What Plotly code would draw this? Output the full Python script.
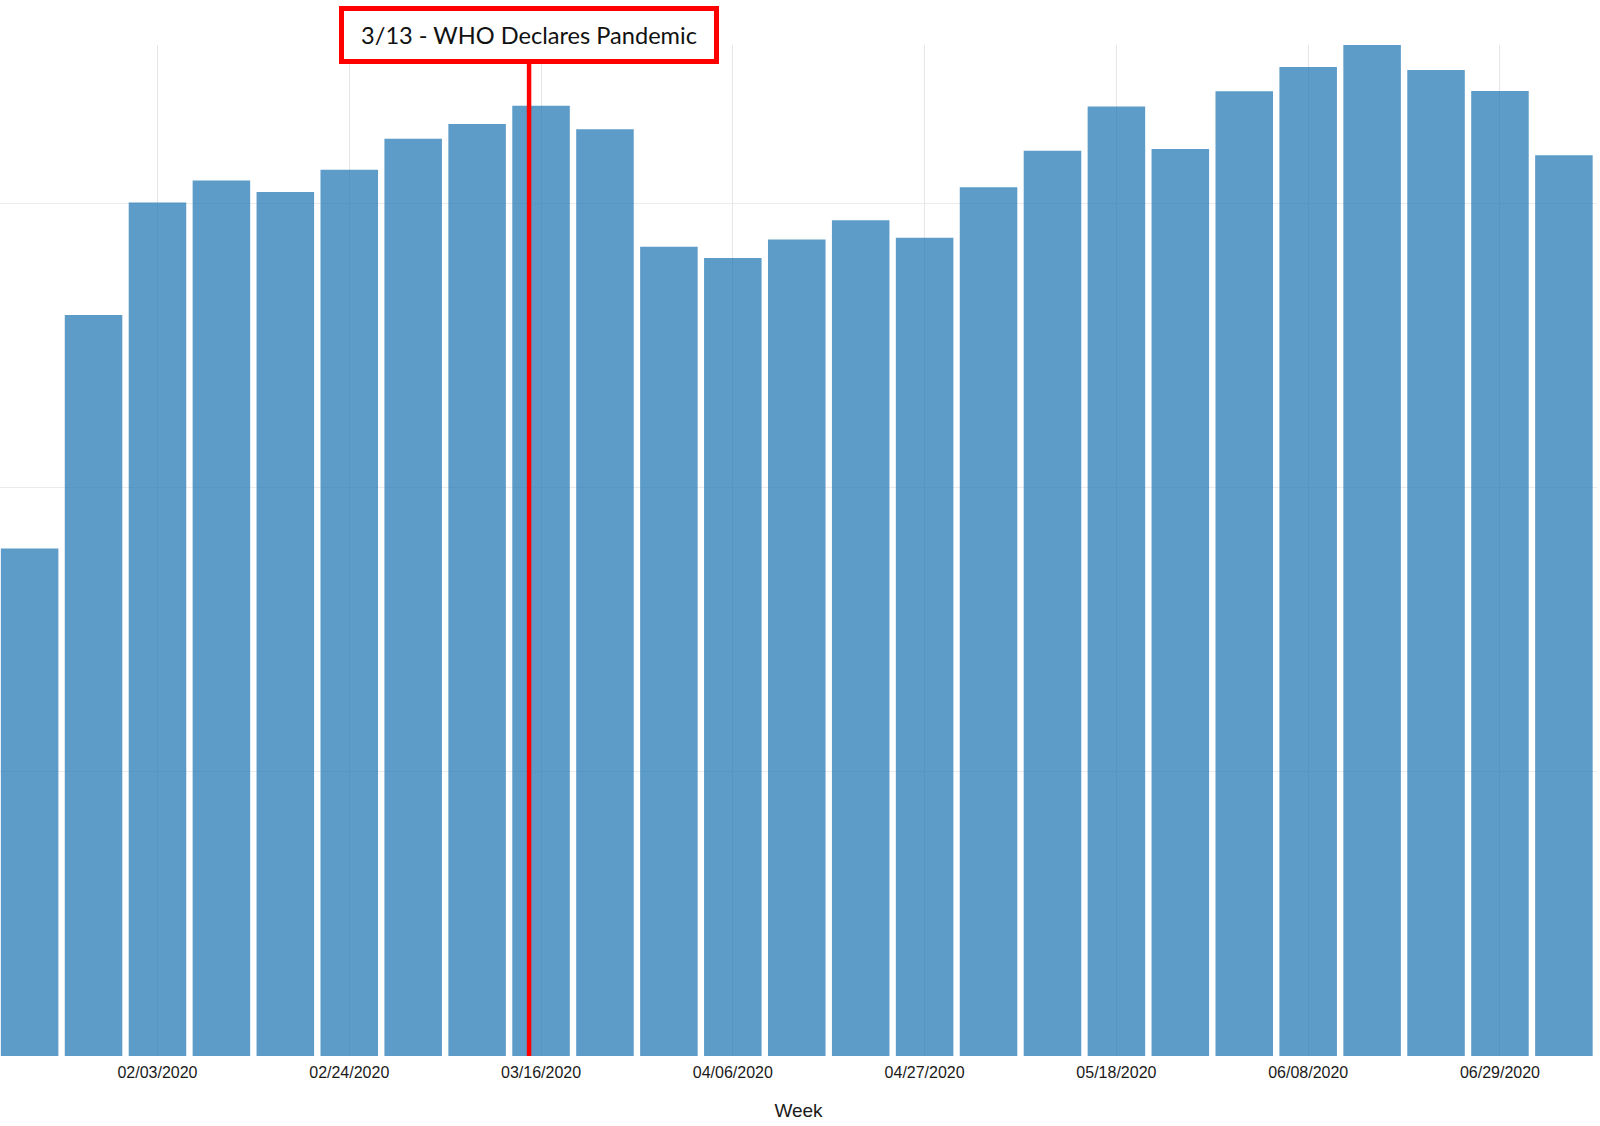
import plotly.graph_objects as go

# weekly values (arbitrary units, one gridline = 1.0)
weeks = ["2020-01-20", "2020-01-27", "2020-02-03", "2020-02-10", "2020-02-17",
         "2020-02-24", "2020-03-02", "2020-03-09", "2020-03-16", "2020-03-23",
         "2020-03-30", "2020-04-06", "2020-04-13", "2020-04-20", "2020-04-27",
         "2020-05-04", "2020-05-11", "2020-05-18", "2020-05-25", "2020-06-01",
         "2020-06-08", "2020-06-15", "2020-06-22", "2020-06-29", "2020-07-06"]
values = [1.785, 2.606, 3.002, 3.079, 3.039,
          3.117, 3.226, 3.278, 3.342, 3.260,
          2.846, 2.807, 2.872, 2.940, 2.878,
          3.056, 3.184, 3.340, 3.190, 3.393,
          3.479, 3.558, 3.468, 3.394, 3.168]

event_date = "2020-03-14 16:30"
event_text = "3/13 - WHO Declares Pandemic"

fig = go.Figure(go.Bar(
    x=weeks,
    y=values,
    marker_color="#1f77b4",
    marker_line_width=0,
    opacity=0.72,
))

# red marker line for the WHO announcement
fig.add_shape(type="line", xref="x", yref="paper",
              x0=event_date, x1=event_date, y0=0, y1=0.985,
              line=dict(color="#ff0000", width=4.5))

fig.add_annotation(x=event_date, xref="x", y=1.0102, yref="paper",
                   xanchor="center", yanchor="middle",
                   text=event_text, showarrow=False,
                   font=dict(family="Lato", size=23.6, color="#111111"),
                   bgcolor="white", bordercolor="#ff0000", borderwidth=5,
                   borderpad=6, width=358, height=36)

fig.update_layout(
    width=1600, height=1126,
    margin=dict(l=0, r=3, t=45, b=70),
    plot_bgcolor="white", paper_bgcolor="white",
    bargap=0.1,
    showlegend=False,
    font=dict(family="Liberation Sans, Arial", color="#1a1a1a"),
)

fig.update_xaxes(
    type="date",
    range=["2020-01-16 18:10", "2020-07-09 15:00"],
    tick0="2020-02-03", dtick=21 * 86400000,
    tickformat="%m/%d/%Y",
    tickfont=dict(size=16),
    ticks="outside", ticklen=2, tickcolor="white",
    showgrid=True, gridcolor="#e6e6e6", gridwidth=1,
    showline=False, zeroline=False,
    title=dict(text="Week", font=dict(size=19), standoff=23),
)

fig.update_yaxes(
    range=[0, 3.556],
    dtick=1,
    showticklabels=False,
    showgrid=True, gridcolor="#ebebeb", gridwidth=1,
    zeroline=False, showline=False,
)

# chart sits flush with the page corner
fig.write_html("out.html", config={"displayModeBar": False},
               post_script="document.body.style.margin='0';")
